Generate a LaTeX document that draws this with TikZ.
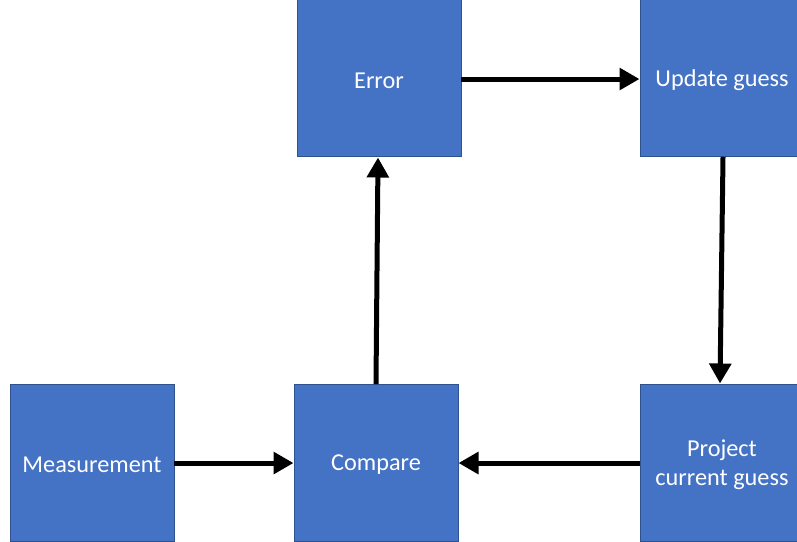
\documentclass[tikz,border=0pt]{standalone}
\usepackage{fontspec}
\setmainfont{Carlito}
\usetikzlibrary{arrows.meta}
\definecolor{boxfill}{HTML}{4472C4}
\definecolor{boxline}{HTML}{2F528F}
\tikzset{
  blk/.style={rectangle, draw=boxline, line width=0.75pt, fill=boxfill,
    minimum width=123pt, minimum height=117.75pt, inner sep=0pt},
  lbl/.style={text=white, align=center, inner sep=0pt, yshift=-1.6pt,
    font=\fontsize{18.2pt}{21.8pt}\selectfont},
  conn/.style={line width=3.75pt, draw=black,
    -{Triangle[length=15pt,width=16pt]}, shorten <=-0.5pt}
}
\begin{document}
\begin{tikzpicture}[x=0.75pt,y=-0.75pt]
\useasboundingbox (0,0) rectangle (797,542);
\node[blk, label={[lbl]center:Error}] (err) at (379,78.5) {};
\node[blk, label={[lbl]center:Update guess}] (upd) at (722,78.5) {};
\node[blk, label={[lbl]center:Measurement}] (meas) at (92,462.5) {};
\node[blk, label={[lbl]center:Compare}] (cmp) at (376,462.5) {};
\node[blk, label={[lbl]center:Project\\current guess}] (proj) at (722,462.5) {};
\draw[conn] ([yshift=-0.4pt]err.east) -- ([yshift=-0.4pt]upd.west);
\draw[conn] ([xshift=0.75pt]upd.south) -- ([xshift=-1.5pt]proj.north);
\draw[conn] ([yshift=-0.4pt]proj.west) -- ([yshift=-0.4pt]cmp.east);
\draw[conn] ([yshift=-0.4pt]meas.east) -- ([yshift=-0.4pt]cmp.west);
\draw[conn] (cmp.north) -- ([xshift=-0.75pt]err.south);
\end{tikzpicture}
\end{document}
